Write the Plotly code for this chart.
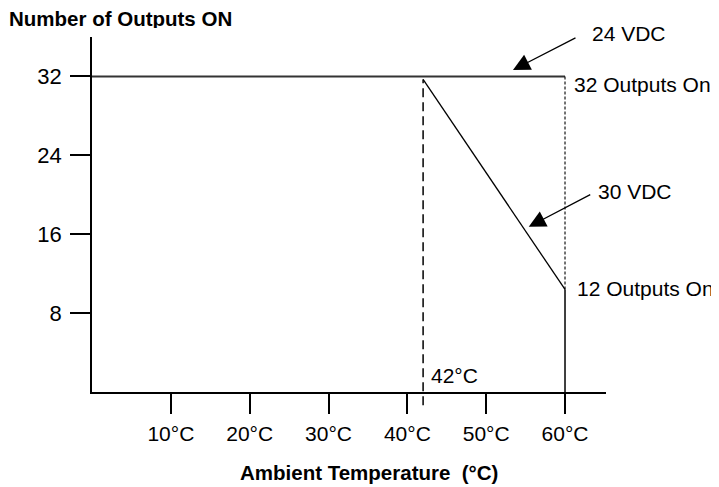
import plotly.graph_objects as go

# ---- data ----
x_tick_vals = [10, 20, 30, 40, 50, 60]
x_tick_text = ["10°C", "20°C", "30°C", "40°C", "50°C", "60°C"]
y_tick_vals = [8, 16, 24, 32]

vdc24_x = [0, 60]
vdc24_y = [32, 32]
vdc30_x = [42, 60]
vdc30_y = [31.7, 10.4]
limit60_dotted_y = [32, 10.4]
limit60_solid_y = [10.4, 0]
derate_temp = 42
max_outputs = 32

X_RANGE = [0, 65.2]
Y_RANGE = [0, 36]

FONT = "Arial, Liberation Sans, sans-serif"
fs = 21

fig = go.Figure()

fig.add_trace(go.Scatter(x=vdc24_x, y=vdc24_y, mode="lines",
                         line=dict(color="#333333", width=2), hoverinfo="skip"))
fig.add_trace(go.Scatter(x=vdc30_x, y=vdc30_y, mode="lines",
                         line=dict(color="black", width=1.3), hoverinfo="skip"))
fig.add_trace(go.Scatter(x=[60, 60], y=limit60_dotted_y, mode="lines",
                         line=dict(color="black", width=1.1, dash="3px,2px"), hoverinfo="skip"))
fig.add_trace(go.Scatter(x=[60, 60], y=limit60_solid_y, mode="lines",
                         line=dict(color="black", width=1.5), hoverinfo="skip"))

# dashed 42°C line, extending a little below the x axis
fig.add_shape(type="line", xref="x", yref="paper",
              x0=derate_temp, x1=derate_temp,
              y0=-0.037, y1=vdc30_y[0] / Y_RANGE[1],
              line=dict(color="black", width=1.5, dash="9px,5px"))

ann_font = dict(family=FONT, size=fs, color="black")
title_font = dict(family=FONT, size=20.5, color="black")
annotations = [
    dict(x=derate_temp, y=0, xref="x", yref="y", text="42°C", showarrow=False,
         xanchor="left", yanchor="bottom", xshift=6, yshift=3, font=ann_font),
    dict(x=60, y=max_outputs, xref="x", yref="y", text="32 Outputs On", showarrow=False,
         xanchor="left", yanchor="middle", xshift=7, yshift=-8, font=ann_font),
    dict(x=60, y=vdc30_y[1], xref="x", yref="y", text="12 Outputs On", showarrow=False,
         xanchor="left", yanchor="middle", xshift=10, yshift=1, font=ann_font),
    # arrows
    dict(x=53.4, y=32.65, xref="x", yref="y", text="", showarrow=True,
         ax=64, ay=-33, arrowhead=2, arrowsize=2.6, arrowwidth=1.3, arrowcolor="black"),
    dict(x=55.4, y=16.75, xref="x", yref="y", text="", showarrow=True,
         ax=63, ay=-33, arrowhead=2, arrowsize=2.6, arrowwidth=1.3, arrowcolor="black"),
    dict(x=53.4, y=32.65, xref="x", yref="y", text="24 VDC", showarrow=False,
         xanchor="left", yanchor="middle", xshift=77, yshift=37, font=ann_font),
    dict(x=55.4, y=16.75, xref="x", yref="y", text="30 VDC", showarrow=False,
         xanchor="left", yanchor="middle", xshift=67, yshift=35, font=ann_font),
    # axis titles
    dict(x=-0.163, y=1.0549, xref="paper", yref="paper", text="<b>Number of Outputs ON</b>",
         showarrow=False, xanchor="left", yanchor="middle", height=20, borderpad=0,
         font=title_font),
    dict(x=0.539, y=-0.228, xref="paper", yref="paper",
         text="<b>Ambient Temperature\u00a0\u00a0(°C)</b>",
         showarrow=False, xanchor="center", yanchor="middle", font=title_font),
]

fig.update_layout(
    width=711, height=479,
    margin=dict(l=84, r=113, t=29, b=95),
    paper_bgcolor="white", plot_bgcolor="white",
    showlegend=False,
    font=dict(family=FONT, size=fs, color="black"),
    annotations=annotations,
    xaxis=dict(range=X_RANGE, tickvals=x_tick_vals, ticktext=x_tick_text,
               ticks="outside", ticklen=20, tickwidth=1.5, tickcolor="black",
               showline=True, linecolor="black", linewidth=1.5,
               showgrid=False, zeroline=False, ticklabelstandoff=2,
               tickfont=dict(family=FONT, size=fs, color="black")),
    yaxis=dict(range=Y_RANGE, tickvals=y_tick_vals,
               ticks="outside", ticklen=20, tickwidth=1.5, tickcolor="black",
               showline=True, linecolor="black", linewidth=1.5,
               showgrid=False, zeroline=False, ticklabelstandoff=4,
               tickfont=dict(family=FONT, size=22, color="black")),
)

fig.write_html("out.html")
